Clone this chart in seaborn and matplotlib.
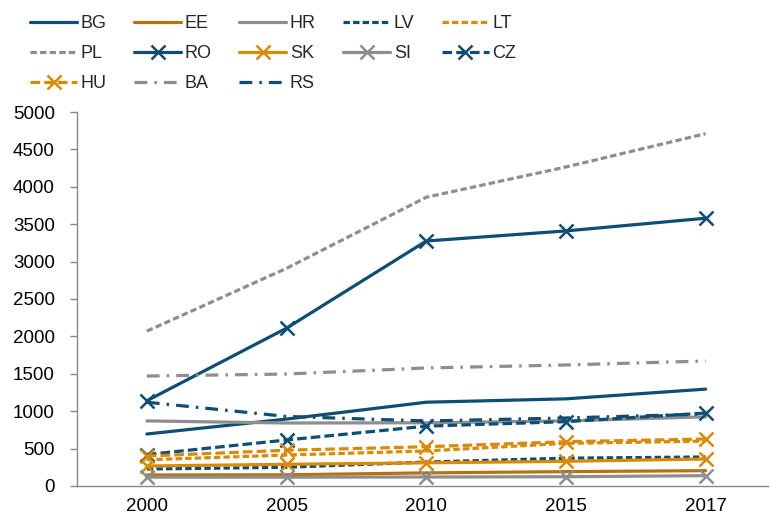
import matplotlib
matplotlib.use("Agg")
import matplotlib.pyplot as plt
import seaborn as sns
import pandas as pd

years = ["2000", "2005", "2010", "2015", "2017"]

BG = [695, 895, 1120, 1165, 1295]
EE = [147, 150, 175, 192, 205]
HR = [870, 842, 845, 870, 925]
LV = [227, 250, 320, 372, 388]
LT = [350, 414, 468, 570, 600]
PL = [2070, 2910, 3860, 4265, 4710]
RO = [1140, 2110, 3275, 3410, 3580]
SK = [267, 290, 310, 330, 361]
SI = [118, 118, 120, 124, 138]
CZ = [420, 615, 800, 860, 975]
HU = [400, 478, 525, 592, 628]
BA = [1470, 1497, 1578, 1618, 1671]
RS = [1120, 930, 869, 909, 963]

series_names = ["BG", "EE", "HR", "LV", "LT", "PL", "RO", "SK", "SI", "CZ", "HU", "BA", "RS"]
series_vals = [BG, EE, HR, LV, LT, PL, RO, SK, SI, CZ, HU, BA, RS]

BLUE = "#0E4D75"
ORANGE = "#DA8A05"
DORANGE = "#B8720C"
GRAY = "#8E8E8E"

short_dash = (0, (2.0, 1.0))
med_dash = (0, (3.0, 1.3))
dashdot = (0, (4.0, 2.2, 0.8, 2.2))

styles = {
    "BG": dict(color=BLUE, ls="-", marker=None),
    "EE": dict(color=DORANGE, ls="-", marker=None),
    "HR": dict(color=GRAY, ls="-", marker=None),
    "LV": dict(color=BLUE, ls=short_dash, marker=None),
    "LT": dict(color=ORANGE, ls=short_dash, marker=None),
    "PL": dict(color=GRAY, ls=short_dash, marker=None),
    "RO": dict(color=BLUE, ls="-", marker="x"),
    "SK": dict(color=ORANGE, ls="-", marker="x"),
    "SI": dict(color=GRAY, ls="-", marker="x"),
    "CZ": dict(color=BLUE, ls=med_dash, marker="x"),
    "HU": dict(color=ORANGE, ls=med_dash, marker="x"),
    "BA": dict(color=GRAY, ls=dashdot, marker=None),
    "RS": dict(color=BLUE, ls=dashdot, marker=None),
}

sns.set_style("white")
plt.rcParams["font.family"] = ["Liberation Sans", "DejaVu Sans"]

FS = 13.5
LFS = 13

fig = plt.figure(figsize=(7.70, 5.19), dpi=100)
ax = fig.add_axes([0.1, 0.0636, 0.898, 0.7206])

xpos = list(range(len(years)))
for name, vals in zip(series_names, series_vals):
    st = styles[name]
    df = pd.DataFrame({"x": xpos, "y": vals})
    sns.lineplot(data=df, x="x", y="y", ax=ax, color=st["color"], linestyle=st["ls"],
                 linewidth=2.3, marker=st["marker"], markersize=10, markeredgewidth=1.8,
                 markeredgecolor=st["color"], label=name)

ax.set_xlim(-0.5, 4.45)
ax.set_ylim(0, 5000)
ax.set_yticks(range(0, 5001, 500))
ax.set_xticks(xpos)
ax.set_xticklabels(years)
ax.set_xlabel("")
ax.set_ylabel("")
ax.tick_params(axis="both", labelsize=FS, colors="black")
ax.tick_params(axis="y", direction="out", length=5, width=1, color="#888888", left=True, pad=11)
ax.tick_params(axis="x", length=0, pad=9)
for s in ["top", "right"]:
    ax.spines[s].set_visible(False)
for s in ["left", "bottom"]:
    ax.spines[s].set_color("#888888")
    ax.spines[s].set_linewidth(1)
ax.grid(False)

handles, labels = ax.get_legend_handles_labels()
hmap = dict(zip(labels, handles))
order = ["BG", "PL", "HU", "EE", "RO", "BA", "HR", "SK", "RS", "LV", "SI", "LT", "CZ"]
ax.legend([hmap[k] for k in order], order, loc="upper left",
          bbox_to_anchor=(0.032, 0.981), bbox_transform=fig.transFigure,
          ncol=5, frameon=False, fontsize=LFS, handlelength=2.6, handletextpad=0.22,
          columnspacing=1.5, labelspacing=0.72, borderaxespad=0.0, borderpad=0.3)

fig.savefig("out.png", dpi=100)
